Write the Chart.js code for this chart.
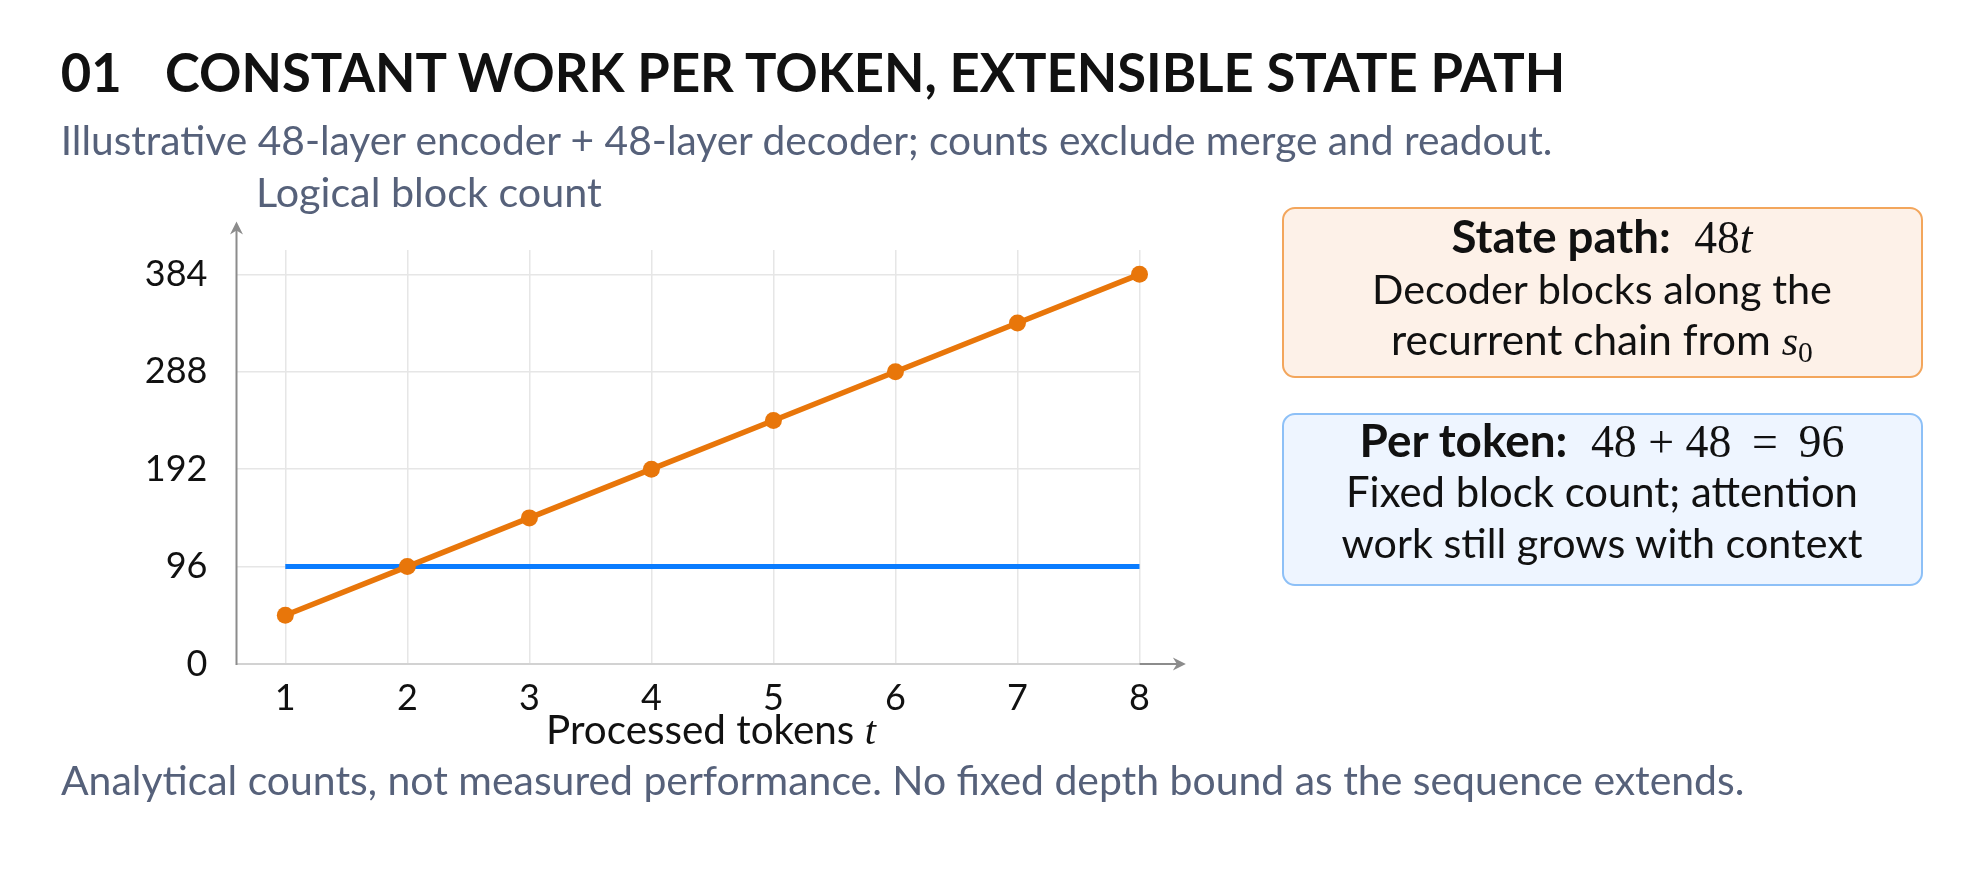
<!DOCTYPE html>
<html>
<head>
<meta charset="utf-8">
<script src="https://cdn.jsdelivr.net/npm/chart.js@4.4.1/dist/chart.umd.min.js"></script>
<style>
    html, body { margin: 0; padding: 0; background: #fff; }
    body { width: 1983px; height: 872px; position: relative; overflow: hidden; font-family: Lato, "Liberation Sans", sans-serif; }
    #chartBox { position: absolute; left: 0; top: 0; width: 1983px; height: 872px; }
    .txt { position: absolute; white-space: nowrap; color: #111; }
    .slate { color: #56617a; }
    .bold { font-weight: 700; }
    .mr { font-family: "Liberation Serif", serif; font-weight: 400; }
    .mr i { font-style: italic; }
    .mr sub { font-size: 0.7em; vertical-align: -0.25em; line-height: 0; }
    .box { position: absolute; box-sizing: border-box; border-radius: 13px; border: 2px solid; }
    #box1 { left: 1282px; top: 207px; width: 641px; height: 171px; background: #fdf1e8; border-color: #f3a65c; }
    #box2 { left: 1282px; top: 413px; width: 641px; height: 173px; background: #eef5ff; border-color: #8dc0f7; }
</style>
</head>
<body>
<div id="chartBox"><canvas id="myChart"></canvas></div>

<div class="box" id="box1"></div>
<div class="box" id="box2"></div>

<div class="txt bold" id="t01">01</div>
<div class="txt bold" id="tTitle">CONSTANT WORK PER TOKEN, EXTENSIBLE STATE PATH</div>
<div class="txt slate" id="tSub">Illustrative 48-layer encoder + 48-layer decoder; counts exclude merge and readout.</div>
<div class="txt slate" id="tYLab">Logical block count</div>
<div class="txt" id="tXLab">Processed tokens <span class="mr"><i>t</i></span></div>
<div class="txt slate" id="tFoot">Analytical counts, not measured performance. No fixed depth bound as the sequence extends.</div>

<div class="txt" id="b1l1"><span class="bold">State path:</span>&nbsp; <span class="mr">48<i>t</i></span></div>
<div class="txt" id="b1l2">Decoder blocks along the</div>
<div class="txt" id="b1l3">recurrent chain from <span class="mr"><i>s</i><sub>0</sub></span></div>
<div class="txt" id="b2l1"><span class="bold">Per token:</span>&nbsp; <span class="mr">48 + 48 &thinsp;=&thinsp; 96</span></div>
<div class="txt" id="b2l2">Fixed block count; attention</div>
<div class="txt" id="b2l3">work still grows with context</div>

<script>
// data
var tokens = [1, 2, 3, 4, 5, 6, 7, 8];
var statePathBlocks = [48, 96, 144, 192, 240, 288, 336, 384];
var perTokenBlocks = [96, 96, 96, 96, 96, 96, 96, 96];
var xTickValues = [1, 2, 3, 4, 5, 6, 7, 8];
var yTickValues = [0, 96, 192, 288, 384];

// axis extents (data units)
var X_MIN = 0.6, X_MAX = 8, X_ARROW = 8.38;
var Y_MIN = 0, Y_MAX = 408, Y_ARROW = 436;

var TICK_FONT = { family: 'Lato', size: 36 };

function toPoints(xs, ys) {
    var pts = [];
    for (var i = 0; i < xs.length; i++) {
        pts.push({ x: xs[i], y: ys[i] });
    }
    return pts;
}

function arrowHead(ctx, tx, ty, dir) {
    // stealth-like head, dir: 'up' or 'right'
    ctx.beginPath();
    if (dir == 'up') {
        ctx.moveTo(tx, ty);
        ctx.lineTo(tx - 6.5, ty + 13);
        ctx.lineTo(tx, ty + 9);
        ctx.lineTo(tx + 6.5, ty + 13);
    } else {
        ctx.moveTo(tx, ty);
        ctx.lineTo(tx - 13, ty - 6.5);
        ctx.lineTo(tx - 9, ty);
        ctx.lineTo(tx - 13, ty + 6.5);
    }
    ctx.closePath();
    ctx.fill();
}

var axisArrows = {
    id: 'axisArrows',
    beforeDatasetsDraw: function (chart) {
        var ctx = chart.ctx;
        var xs = chart.scales.x, ys = chart.scales.y;
        var x0 = xs.getPixelForValue(X_MIN);
        var xEnd = xs.getPixelForValue(X_MAX);
        var xTip = xs.getPixelForValue(X_ARROW);
        var y0 = ys.getPixelForValue(Y_MIN);
        var yTip = ys.getPixelForValue(Y_ARROW);
        ctx.save();
        ctx.strokeStyle = '#8c8c8c';
        ctx.fillStyle = '#8c8c8c';
        ctx.lineWidth = 2;
        // x axis beyond the plot
        ctx.beginPath();
        ctx.moveTo(xEnd, y0);
        ctx.lineTo(xTip - 8, y0);
        ctx.stroke();
        arrowHead(ctx, xTip, y0, 'right');
        // y axis
        ctx.beginPath();
        ctx.moveTo(x0, y0 + 1);
        ctx.lineTo(x0, yTip + 8);
        ctx.stroke();
        arrowHead(ctx, x0, yTip, 'up');
        ctx.restore();
    }
};

Chart.defaults.font.family = 'Lato';

var ctx = document.getElementById('myChart').getContext('2d');
var myChart = new Chart(ctx, {
    type: 'line',
    data: {
        datasets: [{
            label: 'State path',
            data: toPoints(tokens, statePathBlocks),
            borderColor: '#e8760a',
            backgroundColor: '#e8760a',
            borderWidth: 5.5,
            pointRadius: 8.5,
            pointBorderWidth: 0,
            pointBackgroundColor: '#e8760a',
            clip: false,
            order: 1
        }, {
            label: 'Per token',
            data: toPoints(tokens, perTokenBlocks),
            borderColor: '#0a7cff',
            borderWidth: 5,
            pointRadius: 0,
            clip: false,
            order: 2
        }]
    },
    options: {
        responsive: true,
        maintainAspectRatio: false,
        animation: false,
        events: [],
        layout: { padding: { left: 0, top: 250, right: 843.5, bottom: 148 } },
        plugins: { legend: { display: false }, tooltip: { enabled: false } },
        scales: {
            x: {
                type: 'linear',
                min: X_MIN,
                max: X_MAX,
                afterBuildTicks: function (scale) {
                    scale.ticks = xTickValues.map(function (v) { return { value: v }; });
                },
                afterFit: function (scale) { scale.height = 60; },
                border: { display: false },
                grid: { color: '#e6e6e6', lineWidth: 1.5, drawTicks: false },
                ticks: {
                    color: '#111',
                    padding: 13,
                    maxRotation: 0,
                    font: TICK_FONT
                }
            },
            y: {
                type: 'linear',
                min: Y_MIN,
                max: Y_MAX,
                afterBuildTicks: function (scale) {
                    scale.ticks = yTickValues.map(function (v) { return { value: v }; });
                },
                afterFit: function (scale) { scale.width = 236.5; },
                border: { display: false },
                grid: {
                    color: function (c) { return c.tick && c.tick.value === 0 ? '#d2d2d2' : '#e6e6e6'; },
                    lineWidth: function (c) { return c.tick && c.tick.value === 0 ? 2 : 1.5; },
                    drawTicks: false
                },
                ticks: {
                    color: '#111',
                    padding: 29,
                    font: TICK_FONT
                }
            }
        }
    },
    plugins: [axisArrows]
});

// text placement: fit width, put baseline on a given y
function placeText(id, x, base, w, align, size) {
    var el = document.getElementById(id);
    var mark = document.createElement('span');
    mark.style.display = 'inline-block';
    mark.style.width = '0px';
    mark.style.height = '0px';
    el.appendChild(mark);
    if (!size) {
        el.style.fontSize = '100px';
        var r = el.getBoundingClientRect().width;
        size = 100 * w / r;
    }
    el.style.fontSize = size + 'px';
    el.style.lineHeight = (size * 1.2) + 'px';
    el.style.top = '0px';
    var off = mark.getBoundingClientRect().top - el.getBoundingClientRect().top;
    el.style.top = (base - off) + 'px';
    var realW = el.getBoundingClientRect().width;
    el.style.left = (align == 'center' ? x - realW / 2 : x) + 'px';
    return size;
}

var titleSize = placeText('tTitle', 165, 92.3, 1400.7, 'left');
placeText('t01', 60.7, 92.3, 0, 'left', titleSize);
placeText('tSub', 60.7, 155, 1492, 'left');
placeText('tYLab', 256, 206.7, 346, 'left');
placeText('tXLab', 711, 744, 330, 'center');
placeText('tFoot', 61, 795, 1684, 'left');

placeText('b1l1', 1602, 252.7, 301, 'center');
placeText('b1l2', 1602, 303.9, 460, 'center');
placeText('b1l3', 1602, 355, 422, 'center');
placeText('b2l1', 1602, 457, 485, 'center');
placeText('b2l2', 1602, 506.8, 512, 'center');
placeText('b2l3', 1602, 558, 521, 'center');
</script>
</body>
</html>
